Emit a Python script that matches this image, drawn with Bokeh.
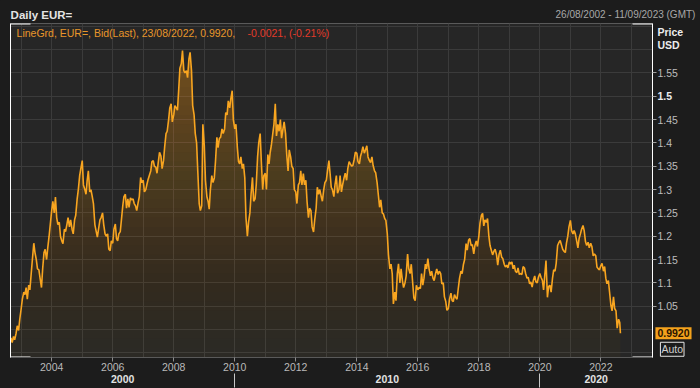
import numpy as np
import pandas as pd
from bokeh.plotting import figure
from bokeh.models import LinearAxis, FixedTicker, CustomJSTickFormatter, Range1d
from bokeh.core.properties import value
from bokeh.embed import file_html
from bokeh.resources import INLINE

# ---------------- data (EUR= daily bid; semi-monthly: 1st & 15th) ----------------
start_date = "2002-08-26"
start_value = 0.977
end_date = "2022-08-23"
end_value = 0.992

eur_2002 = [0.982, 0.972, 0.985, 0.978, 0.992, 1.008, 0.998, 1.022]  # Sep..Dec
eur_2003 = [1.045, 1.065, 1.080, 1.075, 1.090, 1.065, 1.095, 1.085, 1.120, 1.150, 1.185, 1.165,
            1.150, 1.130, 1.128, 1.110, 1.090, 1.130, 1.165, 1.172, 1.150, 1.175, 1.200, 1.225]
eur_2004 = [1.255, 1.275, 1.250, 1.284, 1.240, 1.225, 1.230, 1.200, 1.190, 1.184, 1.215, 1.210,
            1.225, 1.240, 1.220, 1.235, 1.215, 1.205, 1.235, 1.245, 1.280, 1.300, 1.330, 1.345]
eur_2005 = [1.362, 1.310, 1.300, 1.290, 1.320, 1.340, 1.295, 1.300, 1.285, 1.270, 1.225, 1.212,
            1.198, 1.215, 1.235, 1.240, 1.250, 1.225, 1.205, 1.200, 1.205, 1.172, 1.169, 1.190]
eur_2006 = [1.185, 1.215, 1.226, 1.195, 1.190, 1.205, 1.210, 1.235, 1.265, 1.285, 1.290, 1.260,
            1.280, 1.262, 1.282, 1.278, 1.280, 1.270, 1.265, 1.255, 1.272, 1.285, 1.326, 1.315]
eur_2007 = [1.320, 1.295, 1.300, 1.312, 1.322, 1.330, 1.340, 1.360, 1.362, 1.350, 1.348, 1.335,
            1.360, 1.380, 1.372, 1.345, 1.362, 1.392, 1.420, 1.425, 1.450, 1.475, 1.484, 1.445]
eur_2008 = [1.460, 1.480, 1.475, 1.470, 1.515, 1.560, 1.570, 1.598, 1.555, 1.550, 1.555, 1.540,
            1.580, 1.594, 1.555, 1.480, 1.460, 1.420, 1.400, 1.340, 1.270, 1.255, 1.265, 1.440]
eur_2009 = [1.395, 1.320, 1.285, 1.275, 1.258, 1.300, 1.330, 1.315, 1.325, 1.360, 1.412, 1.390,
            1.410, 1.412, 1.430, 1.420, 1.430, 1.465, 1.460, 1.490, 1.475, 1.495, 1.512, 1.450]
eur_2010 = [1.430, 1.440, 1.390, 1.360, 1.355, 1.370, 1.345, 1.355, 1.325, 1.240, 1.200, 1.230,
            1.250, 1.290, 1.326, 1.275, 1.280, 1.310, 1.370, 1.400, 1.420, 1.360, 1.300, 1.330]
eur_2011 = [1.335, 1.300, 1.375, 1.355, 1.380, 1.395, 1.420, 1.440, 1.484, 1.415, 1.440, 1.425,
            1.450, 1.410, 1.430, 1.445, 1.420, 1.375, 1.340, 1.385, 1.370, 1.350, 1.345, 1.300]
eur_2012 = [1.295, 1.270, 1.310, 1.315, 1.340, 1.310, 1.334, 1.310, 1.320, 1.275, 1.240, 1.260,
            1.255, 1.220, 1.209, 1.235, 1.260, 1.305, 1.290, 1.300, 1.285, 1.275, 1.300, 1.315]
eur_2013 = [1.320, 1.340, 1.362, 1.335, 1.305, 1.300, 1.285, 1.310, 1.330, 1.292, 1.300, 1.330,
            1.295, 1.310, 1.325, 1.335, 1.320, 1.345, 1.360, 1.355, 1.350, 1.352, 1.365, 1.380]
eur_2014 = [1.378, 1.360, 1.355, 1.372, 1.380, 1.392, 1.378, 1.385, 1.394, 1.370, 1.362, 1.358,
            1.370, 1.352, 1.340, 1.336, 1.315, 1.290, 1.262, 1.278, 1.250, 1.248, 1.238, 1.234]
eur_2015 = [1.205, 1.160, 1.130, 1.140, 1.120, 1.055, 1.080, 1.062, 1.120, 1.141, 1.100, 1.130,
            1.105, 1.090, 1.100, 1.115, 1.162, 1.130, 1.120, 1.140, 1.100, 1.068, 1.062, 1.095]
eur_2016 = [1.085, 1.090, 1.088, 1.120, 1.095, 1.110, 1.140, 1.130, 1.152, 1.130, 1.115, 1.125,
            1.110, 1.105, 1.120, 1.130, 1.118, 1.125, 1.120, 1.098, 1.100, 1.070, 1.060, 1.041]
eur_2017 = [1.045, 1.065, 1.078, 1.062, 1.060, 1.075, 1.068, 1.065, 1.090, 1.110, 1.125, 1.120,
            1.140, 1.150, 1.184, 1.170, 1.192, 1.195, 1.180, 1.182, 1.162, 1.180, 1.190, 1.178]
eur_2018 = [1.200, 1.228, 1.245, 1.249, 1.222, 1.235, 1.230, 1.238, 1.200, 1.180, 1.169, 1.160,
            1.168, 1.172, 1.160, 1.138, 1.162, 1.170, 1.155, 1.152, 1.140, 1.134, 1.138, 1.132]
eur_2019 = [1.145, 1.140, 1.145, 1.130, 1.138, 1.125, 1.122, 1.132, 1.118, 1.120, 1.118, 1.135,
            1.132, 1.120, 1.110, 1.112, 1.098, 1.102, 1.091, 1.105, 1.115, 1.102, 1.100, 1.112]
eur_2020 = [1.120, 1.112, 1.105, 1.085, 1.118, 1.148, 1.069, 1.092, 1.095, 1.080, 1.110, 1.128,
            1.125, 1.142, 1.180, 1.186, 1.191, 1.182, 1.172, 1.168, 1.165, 1.185, 1.200, 1.220]
eur_2021 = [1.234, 1.212, 1.205, 1.212, 1.205, 1.192, 1.175, 1.195, 1.205, 1.215, 1.223, 1.212,
            1.188, 1.180, 1.187, 1.175, 1.185, 1.178, 1.158, 1.162, 1.158, 1.134, 1.130, 1.128]
eur_2022 = [1.137, 1.142, 1.125, 1.135, 1.110, 1.098, 1.105, 1.080, 1.052, 1.040, 1.070, 1.045,
            1.040, 1.003, 1.022, 1.015]  # Jan..Aug

year_labels = [2004, 2006, 2008, 2010, 2012, 2014, 2016, 2018, 2020, 2022]
decade_labels = ["2000", "2010", "2020"]
decade_starts = [2010, 2020]
price_ticks = [1.05, 1.1, 1.15, 1.2, 1.25, 1.3, 1.35, 1.4, 1.45, 1.5, 1.55]

header_title = "Daily EUR="
header_range = "26/08/2002 - 11/09/2023 (GMT)"
legend_main = "LineGrd, EUR=, Bid(Last),  23/08/2022, 0.9920,"
legend_change = "-0.0021, (-0.21%)"
last_label = "0.9920"

# ---------------- assemble series ----------------
def semi_monthly(year, first_month, vals):
    return [pd.Timestamp(year=year, month=first_month + i // 2, day=1 if i % 2 == 0 else 15)
            for i in range(len(vals))]

yearly = [(2002, 9, eur_2002), (2003, 1, eur_2003), (2004, 1, eur_2004), (2005, 1, eur_2005),
          (2006, 1, eur_2006), (2007, 1, eur_2007), (2008, 1, eur_2008), (2009, 1, eur_2009),
          (2010, 1, eur_2010), (2011, 1, eur_2011), (2012, 1, eur_2012), (2013, 1, eur_2013),
          (2014, 1, eur_2014), (2015, 1, eur_2015), (2016, 1, eur_2016), (2017, 1, eur_2017),
          (2018, 1, eur_2018), (2019, 1, eur_2019), (2020, 1, eur_2020), (2021, 1, eur_2021),
          (2022, 1, eur_2022)]
dates = [pd.Timestamp(start_date)]
vals = [start_value]
for yr, m0, vv in yearly:
    dates += semi_monthly(yr, m0, vv)
    vals += vv
dates.append(pd.Timestamp(end_date))
vals.append(end_value)
x = np.array(dates, dtype="datetime64[ns]")
v = np.array(vals)

def ms(ts):
    return pd.Timestamp(ts).value / 1e6

X0, X1 = ms("2002-08-26"), ms("2023-09-11")
Y0, Y1 = 0.94, 1.656
DAY = 86400000.0

FONT = "Liberation Sans"
p = figure(width=700, height=388, x_axis_type="datetime", y_axis_location="right",
           x_range=Range1d(X0, X1), y_range=Range1d(Y0, Y1),
           output_backend="svg", toolbar_location=None,
           background_fill_color="#262626", border_fill_color="#1c1c1c",
           min_border_left=10, min_border_right=48, min_border_top=23, min_border_bottom=31)
p.outline_line_color = "#5a5a5a"

# grids
p.xgrid.ticker = FixedTicker(ticks=[ms(f"{y}-01-01") for y in range(2003, 2024)])
p.ygrid.ticker = FixedTicker(ticks=[round(0.95 + 0.05 * k, 2) for k in range(15)])
for g in (p.xgrid[0], p.ygrid[0]):
    g.grid_line_color = "#3b3b3b"
    g.grid_line_width = 1

# gradient-like fill under the line (brighter higher up)
levels = [round(0.94 + 0.02 * k, 2) for k in range(35)]
p.varea(x=x, y1=np.full_like(v, Y0), y2=v, fill_color="#f0a030", fill_alpha=0.035)
for k, lev in enumerate(levels):
    a = 0.005 + 0.022 * k / (len(levels) - 1)
    p.varea(x=x, y1=np.minimum(v, lev), y2=v, fill_color="#f0a030", fill_alpha=a)

p.line(x, v, line_color="#f8a520", line_width=1.6)

# white corner brackets on top/bottom edges
cw = 20 / 642 * (X1 - X0)
p.segment(x0=[X0, X1 - cw, X0, X1 - cw], y0=[Y1, Y1, Y0, Y0],
          x1=[X0 + cw, X1, X0 + cw, X1], y1=[Y1, Y1, Y0, Y0], line_color="white", line_width=2)

# bottom year axis
xa = p.xaxis[0]
xa.ticker = FixedTicker(ticks=[ms(f"{y}-01-01") for y in year_labels])
xa.formatter = CustomJSTickFormatter(code="return String(new Date(tick).getUTCFullYear())")
xa.axis_line_color = "#5a5a5a"
xa.major_tick_line_color = "#8c8c8c"
xa.major_tick_out = 4
xa.major_tick_in = 0
xa.minor_tick_line_color = None
xa.minor_tick_out = 0
xa.major_label_standoff = 1
xa.major_label_text_color = "#bababa"
xa.major_label_text_font = FONT
xa.major_label_text_font_size = "10.5px"

# decade axis (labels centred in each visible decade, separators at decade starts)
d_bounds = [ms(f"{d}-01-01") for d in decade_starts]
edges = [X0] + d_bounds + [X1]
centers = [(edges[i] + edges[i + 1]) / 2 for i in range(len(edges) - 1)]
da = LinearAxis(ticker=FixedTicker(ticks=centers, minor_ticks=d_bounds),
                formatter=CustomJSTickFormatter(args=dict(labels=decade_labels), code="return labels[index]"))
da.axis_line_color = None
da.major_tick_line_color = None
da.major_tick_out = 0
da.major_tick_in = 0
da.minor_tick_line_color = "#c8c8c8"
da.minor_tick_out = 14
da.minor_tick_in = 0
da.major_label_standoff = -13
da.major_label_text_color = "#e2e2e2"
da.major_label_text_font = FONT
da.major_label_text_font_style = "bold"
da.major_label_text_font_size = "10.5px"
p.add_layout(da, "below")

# right price axis
ya = p.yaxis[0]
ya.ticker = FixedTicker(ticks=price_ticks)
ya.formatter = CustomJSTickFormatter(code="""
if (Math.abs(tick - 1.5) < 1e-9) { return ''; }
return tick.toFixed(2).replace(/0$/, '');
""")
ya.axis_line_color = "white"
ya.major_tick_line_color = "#a0a0a0"
ya.major_tick_out = 4
ya.major_tick_in = 0
ya.minor_tick_line_color = None
ya.minor_tick_out = 0
ya.major_label_standoff = 1
ya.major_label_text_color = "#bcbcbc"
ya.major_label_text_font = FONT
ya.major_label_text_font_size = "10.5px"

# left edge line
la = LinearAxis(ticker=FixedTicker(ticks=[]), major_label_text_font_size="0px",
                axis_line_color="white", major_tick_out=0, major_tick_in=0,
                minor_tick_out=0, minor_tick_in=0, major_label_standoff=0)
p.add_layout(la, "left")

# texts: anchored on frame corners / data points, shifted in screen pixels, drawn unclipped
def txt(xa_, ya_, text, dx, dy, **kw):
    opts = dict(text_font=value(FONT), text_font_size=value("10.5px"), text_baseline="middle",
                text_align="left", level="overlay")
    opts.update(kw)
    p.text(x=[xa_], y=[ya_], text=[text], x_offset=dx, y_offset=dy, **opts)

TL = (X0 + DAY, Y1 - 0.0005)
TR = (X1 - DAY, Y1 - 0.0005)
BR = (X1 - DAY, Y0 + 0.0005)
txt(*TL, header_title, 0, -9, text_font_style=value("bold"), text_color="#e4e4e4", text_font_size=value("11.5px"))
txt(*TR, header_range, 43, -9, text_align="right", text_color="#a8a8a8", text_font_size=value("10px"))
txt(*TL, legend_main, 6, 9, text_color="#e8962a")
txt(*TL, legend_change, 237, 9, text_color="#e33b2a")
txt(*TR, "Price", 5, 8, text_font_style=value("bold"), text_color="#ececec")
txt(*TR, "USD", 5, 21, text_font_style=value("bold"), text_color="#ececec")
txt(X1 - DAY, 1.5, "1.5", 5, 0, text_font_style=value("bold"), text_color="#ececec")
txt(X1 - DAY, end_value, last_label, 3, 0, text_font_style=value("bold"), text_color="#2a1500",
    background_fill_color="#f4a21c", padding=2)
txt(*BR, "Auto", 8, -8, text_color="#d0d0d0", border_line_color="#e6e6e6", border_line_width=1, padding=1)

html = file_html(p, INLINE, title="Daily EUR=")
html = html.replace("<head>", "<head><style>html,body{background:#1c1c1c;}"
                    "body{outline:1px solid #4a4a4a;outline-offset:-2px;}</style>", 1)
open("out.html", "w").write(html)
